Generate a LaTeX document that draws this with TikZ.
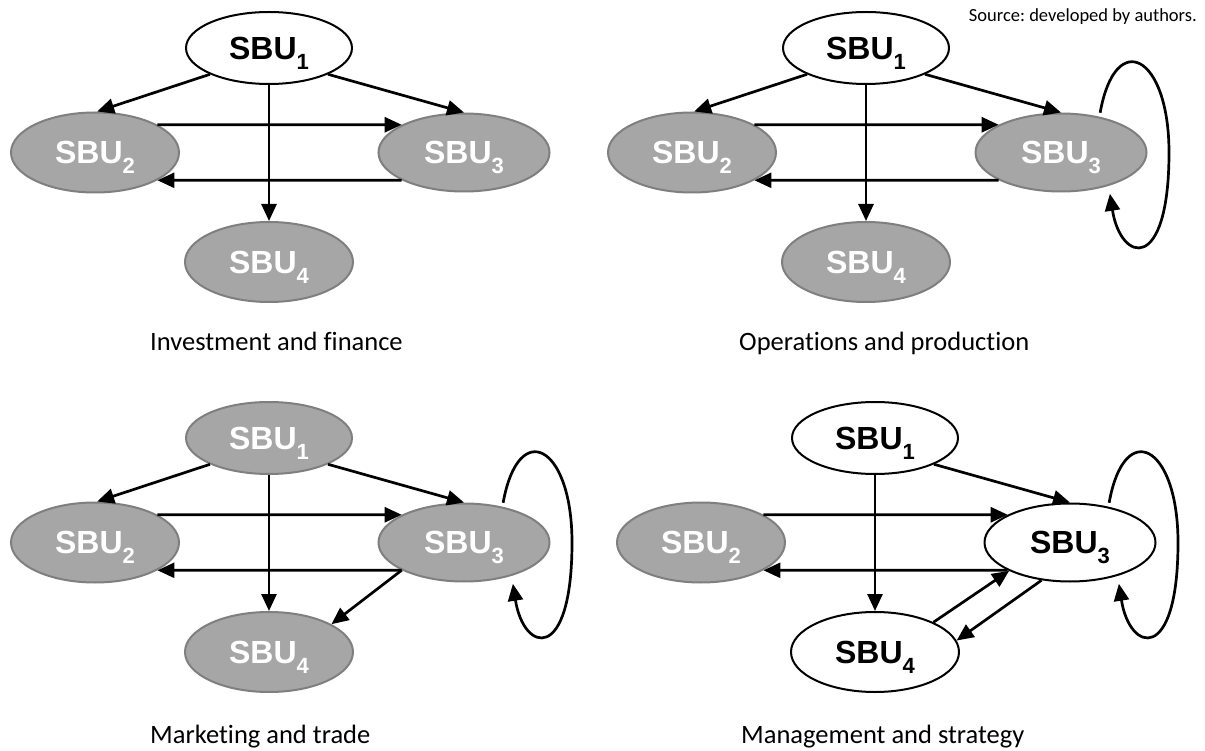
\documentclass[tikz,border=0pt]{standalone}
\usepackage{fontspec}
\setmainfont{Carlito}[Ligatures=NoCommon]
\newfontfamily\sbufont{Liberation Sans}
\usetikzlibrary{shapes.geometric,arrows.meta,positioning}
\definecolor{sbufill}{HTML}{A6A6A6}
\definecolor{sbuborder}{HTML}{7F7F7F}
\newcommand{\sbu}[1]{SBU\raisebox{-10pt}[0pt][0pt]{\fontsize{22}{22}\selectfont #1}}
\frenchspacing

\begin{document}
\begin{tikzpicture}[x=1pt,y=-1pt]
                % Define styles
                \tikzstyle{sbu_white} = [ellipse, draw=black, line width=2pt, fill=white, text=black, inner sep=0pt, minimum width=168pt, minimum height=80pt, font=\sbufont\bfseries\fontsize{32}{32}\selectfont]
                \tikzstyle{sbu_gray} = [sbu_white, draw=sbuborder, fill=sbufill, text=white]
                \tikzstyle{sbu_top} = [minimum width=166pt, minimum height=72pt]
                \tikzstyle{sbu_wide} = [minimum width=171pt, minimum height=78pt]
                \tikzstyle{panel_caption} = [anchor=base west, inner sep=0pt, font=\fontsize{26.5}{26.5}\selectfont]
                \tikzstyle{line} = [draw, line width=2.7pt, -{Triangle[length=17pt,width=15pt]}]
                \tikzstyle{self_loop} = [line, shorten <=4pt, shorten >=8pt]

                \fill [white] (0,0) rectangle (1205,751);
                \useasboundingbox (0,0) rectangle (1205,751);

                % Nodes
                \node [sbu_white, sbu_top] (inv_sbu1) at (269,48) {\sbu{1}};
                \node [sbu_gray, below of=inv_sbu1, node distance=104.5pt, xshift=-174pt] (inv_sbu2) {\sbu{2}};
                \node [sbu_gray, sbu_wide, below of=inv_sbu1, node distance=104.5pt, xshift=195pt] (inv_sbu3) {\sbu{3}};
                \node [sbu_gray, below of=inv_sbu1, node distance=214pt] (inv_sbu4) {\sbu{4}};

                \node [sbu_white, sbu_top, right of=inv_sbu1, node distance=597pt] (ops_sbu1) {\sbu{1}};
                \node [sbu_gray, below of=ops_sbu1, node distance=104.5pt, xshift=-174pt] (ops_sbu2) {\sbu{2}};
                \node [sbu_gray, sbu_wide, below of=ops_sbu1, node distance=104.5pt, xshift=195pt] (ops_sbu3) {\sbu{3}};
                \node [sbu_gray, below of=ops_sbu1, node distance=214pt] (ops_sbu4) {\sbu{4}};
                \coordinate [right of=ops_sbu3, node distance=108pt] (ops_loop);

                \node [sbu_gray, sbu_top, below of=inv_sbu1, node distance=390pt] (mkt_sbu1) {\sbu{1}};
                \node [sbu_gray, below of=mkt_sbu1, node distance=104.5pt, xshift=-174pt] (mkt_sbu2) {\sbu{2}};
                \node [sbu_gray, sbu_wide, below of=mkt_sbu1, node distance=104.5pt, xshift=195pt] (mkt_sbu3) {\sbu{3}};
                \node [sbu_gray, below of=mkt_sbu1, node distance=214pt] (mkt_sbu4) {\sbu{4}};
                \coordinate [right of=mkt_sbu3, node distance=108pt] (mkt_loop);

                \node [sbu_white, sbu_top, right of=mkt_sbu1, node distance=606pt] (mgt_sbu1) {\sbu{1}};
                \node [sbu_gray, below of=mgt_sbu1, node distance=104.5pt, xshift=-174pt] (mgt_sbu2) {\sbu{2}};
                \node [sbu_white, sbu_wide, below of=mgt_sbu1, node distance=104.5pt, xshift=195pt] (mgt_sbu3) {\sbu{3}};
                \node [sbu_white, below of=mgt_sbu1, node distance=214pt] (mgt_sbu4) {\sbu{4}};
                \coordinate [right of=mgt_sbu3, node distance=108pt] (mgt_loop);

                \node [panel_caption] (inv_caption) at (150,351) {Investment and finance};
                \node [panel_caption] (ops_caption) at (739,351) {Operations and production};
                \node [panel_caption] (mkt_caption) at (150,743) {Marketing and trade};
                \node [panel_caption] (mgt_caption) at (741,743) {Management and strategy};
                \node [anchor=base east, inner sep=0pt, font=\fontsize{18.5}{18.5}\selectfont] (source) at (1197,22) {Source: developed by authors.};

                % Lines
                \path [line] (inv_sbu1.204) -- (inv_sbu2.87);
                \path [line] (inv_sbu1.336) -- (inv_sbu3.north);
                \path [line] (inv_sbu1.south) -- (inv_sbu4.north);
                \path [line] (inv_sbu2.24) -- (inv_sbu3.156);
                \path [line] (inv_sbu3.204) -- (inv_sbu2.336);

                \path [line] (ops_sbu1.204) -- (ops_sbu2.87);
                \path [line] (ops_sbu1.336) -- (ops_sbu3.north);
                \path [line] (ops_sbu1.south) -- (ops_sbu4.north);
                \path [line] (ops_sbu2.24) -- (ops_sbu3.156);
                \path [line] (ops_sbu3.204) -- (ops_sbu2.336);
                \path [self_loop] (ops_sbu3.43) .. controls +(16,-89) and +(0,-98) .. (ops_loop) .. controls +(0,122) and +(12,77) .. (ops_sbu3.325.5);

                \path [line] (mkt_sbu1.204) -- (mkt_sbu2.87);
                \path [line] (mkt_sbu1.336) -- (mkt_sbu3.north);
                \path [line] (mkt_sbu1.south) -- (mkt_sbu4.north);
                \path [line] (mkt_sbu2.24) -- (mkt_sbu3.156);
                \path [line] (mkt_sbu3.204) -- (mkt_sbu2.336);
                \path [line] (mkt_sbu3.204) -- (mkt_sbu4.24);
                \path [self_loop] (mkt_sbu3.43) .. controls +(16,-89) and +(0,-98) .. (mkt_loop) .. controls +(0,122) and +(12,77) .. (mkt_sbu3.325.5);

                \path [line] (mgt_sbu1.336) -- (mgt_sbu3.north);
                \path [line] (mgt_sbu1.south) -- (mgt_sbu4.north);
                \path [line] (mgt_sbu2.24) -- (mgt_sbu3.156);
                \path [line] (mgt_sbu3.204) -- (mgt_sbu2.336);
                \path [line] (mgt_sbu4.27) -- (mgt_sbu3.205);
                \path [line] (mgt_sbu3.233) -- (mgt_sbu4.8);
                \path [self_loop] (mgt_sbu3.43) .. controls +(16,-89) and +(0,-98) .. (mgt_loop) .. controls +(0,122) and +(12,77) .. (mgt_sbu3.325.5);
            \end{tikzpicture}
\end{document}
